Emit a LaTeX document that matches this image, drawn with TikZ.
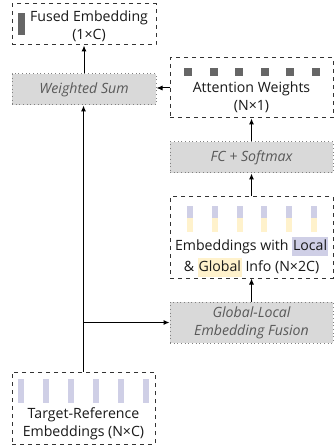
\documentclass[tikz,border=0pt]{standalone}
\usepackage{fontspec}
\setmainfont{Open Sans}
\usepackage{xcolor}
\usepackage{tikz}
\usetikzlibrary{calc, positioning, arrows.meta}
\definecolor{barGray}{HTML}{666666}
\definecolor{embLocal}{HTML}{CFCFE6}
\definecolor{embGlobal}{HTML}{FFF2CC}
\definecolor{opFill}{HTML}{D9D9D9}
\definecolor{opText}{HTML}{595959}
\tikzset{
    databox/.style={rectangle, draw=black!80, dashed, line width=0.75pt, fill=white, inner sep=0pt},
    opbox/.style={rectangle, draw=black!50, dotted, line width=0.75pt, fill=opFill, inner sep=0pt},
    optext/.style={font=\fontsize{10.6}{13.6}\selectfont\itshape, text=opText, align=center},
    datatext/.style={font=\fontsize{10.6}{13.6}\selectfont, text=black!90, align=center},
    arrow/.style={-{Latex[length=4.5pt, width=3.8pt]}, line width=0.75pt}
}
\newcommand{\hlLocal}[1]{{\setlength{\fboxsep}{0.6pt}\colorbox{embLocal}{\strut #1}}}
\newcommand{\hlGlobal}[1]{{\setlength{\fboxsep}{0.6pt}\colorbox{embGlobal}{\strut #1}}}

\begin{document}
\begin{tikzpicture}[x=0.75pt, y=-0.75pt]
    \useasboundingbox (0,0) rectangle (335,448);

    % Left column
    \node[databox, minimum width=108pt, minimum height=30.75pt] (fused) at (84,24.5) {};
    \fill[barGray] (18,13) rectangle (25,35);
    \node[datatext] (fusedtext) at (89,26) {Fused Embedding\\(1×C)};

    \node[opbox, minimum width=108pt, minimum height=23.25pt] (wsum) at (84,89.5) {};
    \node[optext] (wsumtext) at (84,89.5) {Weighted Sum};

    \node[databox, minimum width=107.25pt, minimum height=54pt] (target) at (83.5,408) {};
    \foreach \i in {0,...,5}
        \fill[embLocal] ({18.3+24.95*\i},379) rectangle ({24.3+24.95*\i},403);
    \node[datatext] (targettext) at (83.5,424) {Target-Reference\\Embeddings (N×C)};

    % Right column
    \node[databox, minimum width=122.25pt, minimum height=45pt] (attn) at (251.5,88) {};
    \foreach \i in {0,...,5}
        \fill[barGray] ({184+25.6*\i},68) rectangle ({192+25.6*\i},76);
    \node[datatext] (attntext) at (251.5,97.5) {Attention Weights\\(N×1)};

    \node[opbox, minimum width=122.25pt, minimum height=23.25pt] (fc) at (251.5,157.5) {};
    \node[optext] (fctext) at (251.5,157.5) {FC + Softmax};

    \node[databox, minimum width=122.25pt, minimum height=60.75pt] (emb) at (251.5,237.5) {};
    \foreach \i in {0,...,5} {
        \fill[embLocal] ({186.7+24.9*\i},205.7) rectangle ({192.7+24.9*\i},218.3);
        \fill[embGlobal] ({186.7+24.9*\i},218.3) rectangle ({192.7+24.9*\i},232);
    }
    \node[datatext] (embtext) at (251.5,257) {Embeddings with \hlLocal{Local}\\\& \hlGlobal{Global} Info (N×2C)};

    \node[opbox, minimum width=122.25pt, minimum height=30.75pt] (fusion) at (251.5,322.5) {};
    \node[optext] (fusiontext) at (251.5,322.5) {Global-Local\\Embedding Fusion};

    % Connectors
    \coordinate (split) at (target.north |- fusion.west);
    \draw[arrow] (target.north) -- (target.north |- wsum.south);
    \draw[arrow] (split) -- (fusion.west);
    \draw[arrow] (fusion.north) -- (emb.south);
    \draw[arrow] (emb.north) -- (fc.south);
    \draw[arrow] (fc.north) -- (attn.south);
    \draw[arrow] (attn.west) -- (attn.west -| wsum.east);
    \draw[arrow] (wsum.north) -- (fused.south);
\end{tikzpicture}
\end{document}
